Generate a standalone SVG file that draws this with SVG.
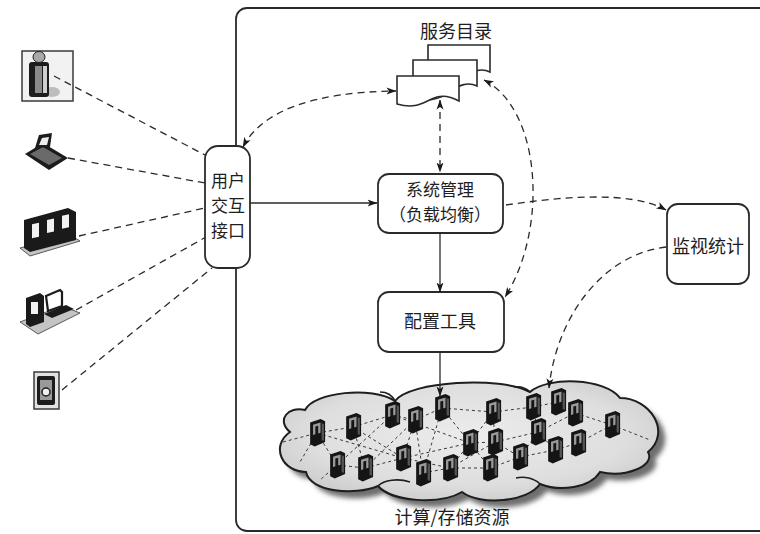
<svg xmlns="http://www.w3.org/2000/svg" width="760" height="534" viewBox="0 0 760 534">
  <defs>
    <style>
      .lbl { font-family: "Noto Sans CJK SC", "Noto Sans", sans-serif; font-size: 17px; fill: #1e1e1e; text-anchor: middle; }
      .big { font-size: 18px; }
      .box { fill: #ffffff; stroke: #2a2a2a; stroke-width: 1.8; }
      .doc { fill: #ffffff; stroke: #2a2a2a; stroke-width: 1.6; }
      .solid { fill: none; stroke: #2a2a2a; stroke-width: 1.3; }
      .dash { fill: none; stroke: #2a2a2a; stroke-width: 1.3; stroke-dasharray: 7 5; }
      .mesh { fill: none; stroke: #3a3a3a; stroke-width: 1; stroke-dasharray: 3 3; }
      .dark { fill: #1a1a1a; }
      .slab { fill: #c4c4c4; stroke: #5a5a5a; stroke-width: 1; }
    </style>
    <marker id="arrow" viewBox="0 0 10 8" markerUnits="userSpaceOnUse" markerWidth="10" markerHeight="8" refX="9.5" refY="4" orient="auto-start-reverse">
      <path d="M0,0.5 L10,4 L0,7.5 L2.5,4 Z" fill="#1a1a1a"/>
    </marker>
    <radialGradient id="cloudFill" cx="0.5" cy="0.45" r="0.6">
      <stop offset="0" stop-color="#ececec"/>
      <stop offset="0.7" stop-color="#dedede"/>
      <stop offset="1" stop-color="#cbcbcb"/>
    </radialGradient>
    <filter id="soft" x="-10%" y="-10%" width="120%" height="130%">
      <feGaussianBlur stdDeviation="2.5"/>
    </filter>
    <!-- tower server glyph, about 16 x 27 -->
    <g id="srv">
      <g transform="translate(-1,-2) scale(1.15)">
        <path d="M1,3 L10,0 L14,2 L14,20 L5,24 L1,22 Z" fill="#151515"/>
        <path d="M3.5,5 L10,3 L10,12 L3.5,14 Z" fill="#9a9a9a"/>
        <path d="M5.5,6.5 L8,5.8 L8,21 L5.5,21.8 Z" fill="#151515"/>
        <path d="M11,3.5 L13,4.5 L13,19 L11,18.5 Z" fill="#555"/>
      </g>
    </g>
    <!-- cloud outline -->
    <path id="cloudShape" d="M290,432
      C276,420 288,406 305,410
      C314,392 372,386 395,401
      C410,381 500,376 530,392
      C548,376 605,378 620,398
      C650,398 672,432 648,452
      C656,466 625,478 600,472
      C590,488 560,492 540,484
      C528,502 480,506 462,492
      C440,505 392,502 378,486
      C355,496 310,492 306,472
      C282,472 270,446 290,432 Z"/>
  </defs>

  <rect x="0" y="0" width="760" height="534" fill="#ffffff"/>

  <!-- outer system boundary -->
  <rect x="236" y="8" width="560" height="523" rx="11" fill="none" stroke="#2a2a2a" stroke-width="1.8"/>

  <!-- resource cloud -->
  <g id="cloud">
    <use href="#cloudShape" transform="translate(7,7)" fill="#6e6e6e" filter="url(#soft)"/>
    <use href="#cloudShape" fill="url(#cloudFill)" stroke="#1e1e1e" stroke-width="2"/>
    <path d="M395,401 C392,395 386,392 380,392" fill="none" stroke="#1e1e1e" stroke-width="1.6"/>
    <path d="M530,392 C526,388 520,386 514,387" fill="none" stroke="#1e1e1e" stroke-width="1.6"/>
    <path d="M378,486 C384,480 398,478 410,482" fill="none" stroke="#1e1e1e" stroke-width="1.6"/>
    <path d="M540,484 C534,478 524,476 516,478" fill="none" stroke="#1e1e1e" stroke-width="1.6"/>

    <g id="cloud-links">
      <path class="mesh" d="M283,442 L317,433 M317,433 L353,427 M317,433 L337,465 M317,433 L403,458
        M353,427 L392,415 M353,427 L365,468 M353,427 L403,458 M337,465 L392,415
        M337,465 L365,468 M365,468 L403,458 M365,468 L415,420 M392,415 L415,420
        M392,415 L470,443 M415,420 L442,408 M415,420 L403,458 M415,420 L423,473
        M442,408 L470,443 M442,408 L493,412 M442,408 L423,473 M403,458 L450,468
        M403,458 L470,443 M423,473 L450,468 M450,468 L495,442 M450,468 L470,443
        M450,468 L490,468 M470,443 L493,412 M470,443 L495,442 M470,443 L490,468
        M493,412 L533,407 M493,412 L495,442 M495,442 L520,457 M495,442 L538,432
        M490,468 L520,457 M520,457 L555,450 M520,457 L538,432 M533,407 L538,432
        M533,407 L558,402 M538,432 L555,450 M538,432 L575,413 M558,402 L575,413
        M575,413 L612,425 M555,450 L578,443 M578,443 L612,425 M612,425 L650,440
        M317,433 L300,462 M337,465 L320,480"/>
    </g>

    <g id="servers">
      <use href="#srv" x="310" y="421"/>
      <use href="#srv" x="346" y="415"/>
      <use href="#srv" x="385" y="403"/>
      <use href="#srv" x="408" y="408"/>
      <use href="#srv" x="435" y="396"/>
      <use href="#srv" x="330" y="453"/>
      <use href="#srv" x="358" y="456"/>
      <use href="#srv" x="396" y="446"/>
      <use href="#srv" x="416" y="461"/>
      <use href="#srv" x="443" y="456"/>
      <use href="#srv" x="463" y="431"/>
      <use href="#srv" x="486" y="400"/>
      <use href="#srv" x="488" y="430"/>
      <use href="#srv" x="483" y="456"/>
      <use href="#srv" x="513" y="445"/>
      <use href="#srv" x="526" y="395"/>
      <use href="#srv" x="531" y="420"/>
      <use href="#srv" x="551" y="390"/>
      <use href="#srv" x="568" y="401"/>
      <use href="#srv" x="548" y="438"/>
      <use href="#srv" x="571" y="431"/>
      <use href="#srv" x="605" y="413"/>
    </g>
    <text class="lbl big" x="452" y="524">计算/存储资源</text>
  </g>

  <!-- client devices -->
  <g id="client-user">
    <rect x="22" y="51" width="51" height="50" fill="#f2f2f2" stroke="#3a3a3a" stroke-width="1.5"/>
    <ellipse cx="52" cy="92" rx="8" ry="5" fill="#bdbdbd"/>
    <rect x="29" y="62" width="20" height="35" rx="3" fill="#1c1c1c"/>
    <rect x="35" y="66" width="7" height="27" fill="#8a8a8a"/>
    <rect x="43" y="66" width="4" height="27" fill="#cfcfcf"/>
    <ellipse cx="39" cy="57" rx="6" ry="5.5" fill="#a8a8a8" stroke="#222" stroke-width="1"/>
  </g>

  <g id="client-laptop">
    <polygon points="25,154 43,143 68,158 49,170" fill="#1c1c1c"/>
    <polygon points="30,154 43,147 62,158 49,165" fill="#6a6a6a"/>
    <polygon points="35,148 39,135 52,133 50,147" fill="#1c1c1c"/>
    <polygon points="39,145 42,138 49,137 47,145" fill="#eeeeee"/>
  </g>

  <g id="client-terminals">
    <polygon class="slab" points="20,248 70,235 80,241 30,256"/>
    <polygon class="dark" points="24,220 68,208 76,212 76,240 30,252 24,248"/>
    <rect x="32" y="224" width="7" height="14" fill="#f2f2f2" transform="skewY(-12) translate(0,7)"/>
    <rect x="47" y="220" width="7" height="13" fill="#f2f2f2" transform="skewY(-12) translate(0,10)"/>
    <rect x="62" y="216" width="7" height="13" fill="#f2f2f2" transform="skewY(-12) translate(0,13)"/>
  </g>

  <g id="client-pc">
    <polygon class="slab" points="20,322 62,306 80,313 38,334"/>
    <polygon class="dark" points="26,298 40,293 44,296 44,322 30,327 26,324"/>
    <rect x="31" y="302" width="7" height="12" fill="#f2f2f2"/>
    <polygon points="46,296 60,290 62,292 62,306 48,311" fill="none" stroke="#1c1c1c" stroke-width="2.2"/>
    <polygon class="dark" points="44,314 66,305 74,309 52,318"/>
  </g>

  <g id="client-mobile">
    <rect x="34" y="372" width="25" height="37" fill="#e2e2e2" stroke="#3a3a3a" stroke-width="1.5"/>
    <rect x="37" y="376" width="18" height="29" rx="2" fill="#1c1c1c"/>
    <rect x="40" y="380" width="12" height="20" fill="#9a9a9a"/>
    <circle cx="46" cy="392" r="4" fill="#f0f0f0" stroke="#1c1c1c" stroke-width="1.5"/>
  </g>

  <!-- connectors -->
  <g id="connectors">
    <path class="dash" d="M54,76 L205,155"/>
    <path class="dash" d="M68,158 L205,183"/>
    <path class="dash" d="M79,236 L205,208"/>
    <path class="dash" d="M76,310 L206,237"/>
    <path class="dash" d="M62,390 L212,268"/>

    <path class="solid" d="M250,203 L377,203" marker-end="url(#arrow)"/>
    <path class="solid" d="M440,233 L440,292" marker-end="url(#arrow)"/>
    <path class="solid" d="M440,352 L440,396" marker-end="url(#arrow)"/>
    <path class="dash" d="M440,100 L440,172" marker-start="url(#arrow)" marker-end="url(#arrow)"/>
    <path class="dash" d="M243,147 C262,110 315,92 396,91" marker-start="url(#arrow)" marker-end="url(#arrow)"/>
    <path class="dash" d="M484,80 C542,110 548,230 505,297" marker-start="url(#arrow)" marker-end="url(#arrow)"/>
    <path class="dash" d="M506,205 C560,197 630,190 666,210" marker-end="url(#arrow)"/>
    <path class="dash" d="M666,247 C600,255 556,320 549,388" marker-end="url(#arrow)"/>
  </g>

  <!-- service catalogue -->
  <g id="catalog">
    <path class="doc" d="M428,45 H490 V72 C480,67 470,72 462,78 C452,86 438,88 428,84 Z"/>
    <path class="doc" d="M413,60 H477 V86 C467,81 458,86 450,92 C440,100 424,102 413,98 Z"/>
    <path class="doc" d="M397,76 H459 V101 C450,96 444,95 437,97 C424,101 418,110 397,104 Z"/>
    <text class="lbl big" x="456" y="38">服务目录</text>
  </g>

  <g id="ui">
    <rect class="box" x="205" y="146" width="45" height="122" rx="13"/>
    <text class="lbl" x="228" y="187">用户</text>
    <text class="lbl" x="228" y="212">交互</text>
    <text class="lbl" x="228" y="237">接口</text>
  </g>

  <g id="sysmgmt">
    <rect class="box" x="378" y="174" width="125" height="59" rx="11"/>
    <text class="lbl" x="440" y="196">系统管理</text>
    <text class="lbl" x="440" y="221">（负载均衡）</text>
  </g>

  <g id="config">
    <rect class="box" x="378" y="292" width="126" height="60" rx="11"/>
    <text class="lbl big" x="440" y="328">配置工具</text>
  </g>

  <g id="monitor">
    <rect class="box" x="667" y="204" width="82" height="80" rx="11"/>
    <text class="lbl big" x="708" y="253">监视统计</text>
  </g>
</svg>
